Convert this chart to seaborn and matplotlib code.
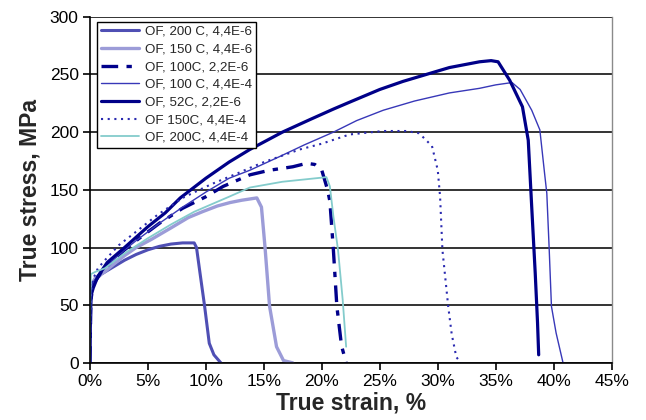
import matplotlib
matplotlib.use("Agg")
import matplotlib.pyplot as plt
import seaborn as sns
import pandas as pd

# Tensile test curves: true strain (%) vs. true stress (MPa)
labels = [
    "OF, 200 C, 4,4E-6",
    "OF, 150 C, 4,4E-6",
    "OF, 100C, 2,2E-6",
    "OF, 100 C, 4,4E-4",
    "OF, 52C, 2,2E-6",
    "OF 150C, 4,4E-4",
    "OF, 200C, 4,4E-4",
]

strain_200c_slow = [0, 0.05, 0.15, 0.5, 1.0, 2.0, 3.0, 4.0, 5.0, 6.0, 7.0, 8.0, 8.8, 9.0,
                    9.2, 9.5, 9.9, 10.3, 10.7, 11.3]
stress_200c_slow = [0, 45, 63, 72, 77, 83, 89, 94, 98, 101, 103, 104, 104, 104,
                    100, 78, 49, 17, 7, 0]

strain_150c_slow = [0, 0.05, 0.15, 0.5, 1.3, 2.0, 3.0, 4.0, 5.3, 7.0, 8.5, 9.7, 11.0, 12.1,
                    13.1, 14.4, 14.8, 15.1, 15.5, 16.1, 16.7, 17.5]
stress_150c_slow = [0, 50, 68, 74, 79, 85, 93, 100, 107, 117, 126, 131, 136, 139,
                    141, 143, 135, 101, 49, 14, 2, 0]

strain_100c_slow = [0, 0.1, 0.3, 1.0, 2.0, 3.0, 4.0, 6.0, 8.0, 10.0, 11.5, 13.8, 15.5, 17.5,
                    18.7, 19.4, 20.0, 20.5, 20.7, 21.0, 21.3, 21.7, 22.1]
stress_100c_slow = [0, 55, 68, 79, 89, 98, 106, 121, 134, 144, 153, 163, 167, 170,
                    173, 172, 167, 150, 140, 98, 49, 15, 0]

strain_100c_fast = [0, 0.1, 0.3, 1.0, 2.0, 3.0, 4.0, 6.0, 8.0, 10.0, 12.0, 13.8, 16.4, 18.5,
                    21.0, 23.0, 25.3, 28.0, 31.0, 33.6, 35.0, 36.4, 37.1, 38.1, 38.8, 39.2,
                    39.4, 39.6, 39.8, 40.2, 40.8]
stress_100c_fast = [0, 60, 70, 79, 89, 98, 106, 121, 135, 148, 160, 167, 179, 189,
                    200, 210, 219, 227, 234, 238, 241, 243, 237, 219, 202, 165,
                    147, 100, 49, 26, 0]

strain_52c_slow = [0, 0.05, 0.1, 0.3, 0.7, 1.5, 3.0, 5.0, 6.5, 7.8, 10.0, 12.0, 13.8, 16.6,
                   19.0, 21.0, 22.4, 25.0, 27.0, 29.0, 31.0, 33.6, 34.6, 35.2, 36.2, 37.3,
                   37.8, 38.1, 38.4, 38.6, 38.7]
stress_52c_slow = [0, 40, 58, 65, 75, 87, 100, 118, 130, 143, 160, 174, 185, 200,
                   211, 220, 226, 237, 244, 250, 256, 261, 262, 261, 245, 222,
                   193, 135, 78, 35, 7]

strain_150c_fast = [0, 0.1, 0.3, 0.7, 1.3, 2.5, 3.9, 5.8, 8.0, 10.5, 12.9, 13.8, 15.0, 18.1,
                    20.0, 22.4, 25.3, 27.3, 28.4, 29.5, 30.0, 30.2, 30.4, 30.9, 31.2,
                    31.6, 32.0]
stress_150c_fast = [0, 60, 73, 82, 89, 102, 113, 128, 143, 155, 165, 169, 174, 185,
                    190, 198, 201, 201, 199, 188, 167, 144, 98, 49, 25,
                    5, 0]

strain_200c_fast = [0, 0.05, 0.1, 0.5, 1.3, 3.0, 5.0, 7.0, 9.0, 12.0, 13.8, 16.6, 18.5, 20.4,
                    20.7, 21.0, 21.4, 21.8, 22.1]
stress_200c_fast = [0, 60, 77, 79, 82, 95, 108, 120, 131, 144, 152, 157, 159, 161,
                    153, 127, 98, 55, 14]

series = [
    (strain_200c_slow, stress_200c_slow),
    (strain_150c_slow, stress_150c_slow),
    (strain_100c_slow, stress_100c_slow),
    (strain_100c_fast, stress_100c_fast),
    (strain_52c_slow, stress_52c_slow),
    (strain_150c_fast, stress_150c_fast),
    (strain_200c_fast, stress_200c_fast),
]

styles = [
    dict(color="#4f4fb4", lw=2.2, ls="-"),
    dict(color="#9c9cd8", lw=2.4, ls="-"),
    dict(color="#00008b", lw=2.4, ls=(0, (5, 2.5, 1.6, 2.5))),
    dict(color="#3838b8", lw=1.0, ls="-"),
    dict(color="#000088", lw=2.3, ls="-"),
    dict(color="#2a2ab0", lw=1.5, ls=(0, (1, 2.2))),
    dict(color="#84cccc", lw=1.3, ls="-"),
]

sns.set_theme(style="white")
plt.rcParams["font.family"] = ["Liberation Sans", "DejaVu Sans"]

fig = plt.figure(figsize=(6.46, 4.20), dpi=100)
ax = fig.add_axes([0.139, 0.136, 0.808, 0.824])

for lab, (xs, ys), st in zip(labels, series, styles):
    df = pd.DataFrame({"strain": xs, "stress": ys})
    sns.lineplot(data=df, x="strain", y="stress", ax=ax, sort=False, estimator=None,
                 label=lab, color=st["color"], linewidth=st["lw"], linestyle=st["ls"])

ax.set_xlim(0, 45)
ax.set_ylim(0, 300)
ax.set_xticks(range(0, 46, 5))
ax.set_xticklabels([f"{v}%" for v in range(0, 46, 5)])
ax.set_yticks(range(0, 301, 50))

ax.yaxis.grid(True, color="#111111", linewidth=1.2)
ax.xaxis.grid(False)
ax.set_axisbelow(True)

for side in ("left", "bottom"):
    ax.spines[side].set_color("black")
    ax.spines[side].set_linewidth(1.2)
ax.spines["top"].set_visible(False)
ax.spines["right"].set_color("#8a8a8a")
ax.spines["right"].set_linewidth(1.0)

ax.tick_params(axis="both", which="major", labelsize=12.5, colors="black",
               length=5, width=1.2, direction="out", pad=3)
ax.tick_params(axis="x", bottom=True)
ax.tick_params(axis="y", left=True)

ax.set_xlabel("True strain, %", fontsize=16.5, fontweight="bold", labelpad=2)
ax.set_ylabel("True stress, MPa", fontsize=16.5, fontweight="bold", labelpad=6)

leg = ax.legend(loc="upper left", bbox_to_anchor=(0.013, 0.986), borderaxespad=0,
                fontsize=9.6, frameon=True, fancybox=False, handlelength=2.9,
                labelspacing=0.4, handletextpad=0.4, borderpad=0.3)
leg.get_frame().set_edgecolor("black")
leg.get_frame().set_linewidth(1.0)
leg.get_frame().set_alpha(1)

fig.savefig("out.png", dpi=100)
